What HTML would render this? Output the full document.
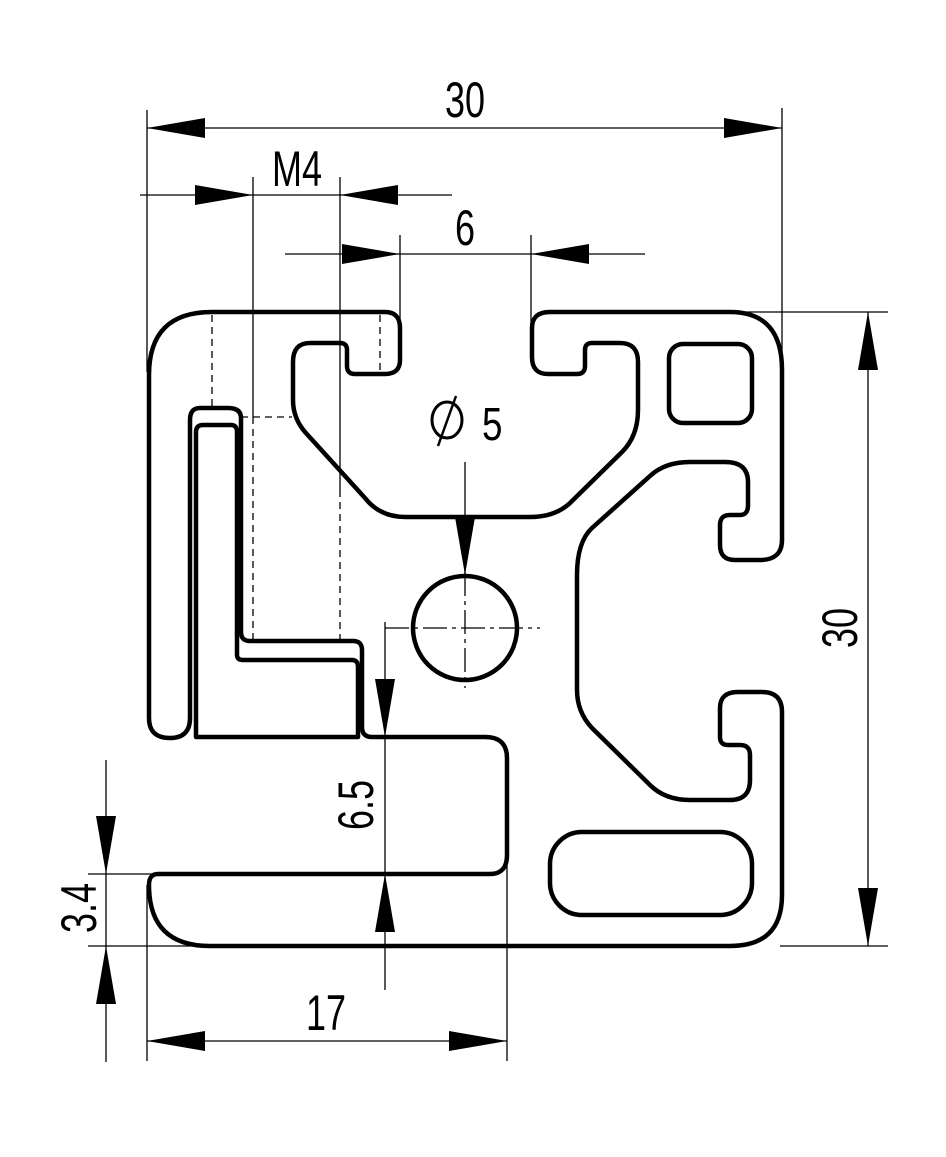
<!DOCTYPE html>
<html><head><meta charset="utf-8"><style>
html,body{margin:0;padding:0;background:#fff}
svg{display:block}
text{font-family:"Liberation Sans",sans-serif;fill:#000}
</style></head><body>
<svg width="946" height="1157" viewBox="0 0 946 1157" xmlns="http://www.w3.org/2000/svg">
<g fill="none" stroke="#000" stroke-width="4.5" stroke-linejoin="round">
<!-- main outer contour -->
<path d="M149,375 Q149,312 212,312 L385,312 Q400,312 400,328 L400,360 Q400,374 385,374 L355,374 Q347,374 347,366 L347,350 Q347,343 340,343 L310,343 Q293,343 293,362 L293,400 Q293,418 305,432 L365,498 Q380,517 405,517 L530,517 Q555,517 570,503 L622,452 Q638,436 638,410 L638,362 Q638,343 620,343 L592,343 Q585,343 585,350 L585,366 Q585,374 577,374 L548,374 Q532,374 532,357 L532,328 Q532,312 550,312 L730,312 Q782,312 782,370 L782,540 Q782,560 760,560 L735,560 Q720,560 720,545 L720,525 Q720,515 730,515 L740,515 Q748,515 748,505 L748,482 Q748,462 725,462 L690,462 Q665,462 650,476 L592,528 Q577,542 577,575 L577,690 Q577,712 592,728 L650,785 Q665,800 690,800 L730,800 Q750,800 750,780 L750,755 Q750,745 740,745 L728,745 Q720,745 720,737 L720,708 Q720,692 738,692 L762,692 Q782,692 782,712 L782,895 Q782,946 730,946 L210,946 Q149,946 149,885 Q149,874 158,874 L490,874 Q507,874 507,855 L507,758 Q507,737 485,737 L372,737 Q362,737 362,727 L362,650 Q362,641 353,641 L250,641 Q241,641 241,632 L241,418 Q241,408 228,408 L200,408 Q190,408 190,420 L190,718 Q190,738 170,738 Q149,738 149,718 Z"/>
<!-- insert L -->
<path d="M196,432 Q196,425 203,425 L231,425 Q237,425 237,432 L237,655 Q237,660 243,660 L352,660 Q358,660 358,667 L358,737 L196,737 Z"/>
<!-- top right hollow -->
<rect x="669" y="344" width="83" height="79" rx="14"/>
<!-- bottom slot -->
<rect x="550" y="832" width="202" height="83" rx="32"/>
<!-- circle -->
<circle cx="465" cy="628" r="52"/>
</g>
<g fill="none" stroke="#000" stroke-width="1.3">
<!-- dashed hidden lines -->
<g stroke-dasharray="7,5">
<line x1="212" y1="315" x2="212" y2="406"/>
<line x1="380" y1="315" x2="380" y2="372"/>
<line x1="241" y1="417" x2="292" y2="417"/>
<line x1="253" y1="417" x2="253" y2="639"/>
<line x1="340" y1="490" x2="340" y2="639"/>
</g>
<g stroke-dasharray="24,5,4,5">
<line x1="385" y1="628" x2="540" y2="628"/>
<line x1="465" y1="572" x2="465" y2="688"/>
</g>
<!-- extension lines -->
<line x1="147" y1="110" x2="147" y2="372"/>
<line x1="782" y1="108" x2="782" y2="362"/>
<line x1="253" y1="177" x2="253" y2="417"/>
<line x1="340" y1="177" x2="340" y2="490"/>
<line x1="400" y1="235" x2="400" y2="330"/>
<line x1="531" y1="235" x2="531" y2="356"/>
<line x1="735" y1="312" x2="888" y2="312"/>
<line x1="780" y1="946" x2="888" y2="946"/>
<line x1="88" y1="874" x2="155" y2="874"/>
<line x1="88" y1="946" x2="210" y2="946"/>
<line x1="147" y1="885" x2="147" y2="1061"/>
<line x1="507" y1="860" x2="507" y2="1061"/>
<!-- dimension lines -->
<line x1="147" y1="128" x2="782" y2="128"/>
<line x1="140" y1="195" x2="452" y2="195"/>
<line x1="285" y1="254" x2="645" y2="254"/>
<line x1="868" y1="312" x2="868" y2="946"/>
<line x1="385" y1="622" x2="385" y2="990"/>
<line x1="106" y1="760" x2="106" y2="1062"/>
<line x1="147" y1="1041" x2="507" y2="1041"/>
<line x1="465" y1="462" x2="465" y2="575"/>
</g>
<g fill="#000">
<!-- arrows -->
<polygon points="147,128 205,118 205,138"/>
<polygon points="782,128 724,118 724,138"/>
<polygon points="253,195 195,185 195,205"/>
<polygon points="340,195 398,185 398,205"/>
<polygon points="400,254 342,244 342,264"/>
<polygon points="531,254 589,244 589,264"/>
<polygon points="868,312 858,370 878,370"/>
<polygon points="868,946 858,888 878,888"/>
<polygon points="385,737 375,679 395,679"/>
<polygon points="385,874 375,932 395,932"/>
<polygon points="106,874 96,816 116,816"/>
<polygon points="106,946 96,1004 116,1004"/>
<polygon points="147,1041 205,1031 205,1051"/>
<polygon points="507,1041 449,1031 449,1051"/>
<polygon points="465,575 455,517 475,517"/>
</g>
<g font-size="50">
<text x="465" y="117" text-anchor="middle" transform="translate(465 0) scale(0.72 1) translate(-465 0)">30</text>
<text x="297" y="186" text-anchor="middle" transform="translate(297 0) scale(0.72 1) translate(-297 0)">M4</text>
<text x="465" y="245" text-anchor="middle" transform="translate(465 0) scale(0.72 1) translate(-465 0)">6</text>
<text x="326" y="1030" text-anchor="middle" transform="translate(326 0) scale(0.72 1) translate(-326 0)">17</text>
<text transform="translate(857 628) rotate(-90) scale(0.72 1)" text-anchor="middle">30</text>
<text transform="translate(373 805) rotate(-90) scale(0.72 1)" text-anchor="middle">6.5</text>
<text transform="translate(96 908) rotate(-90) scale(0.72 1)" text-anchor="middle">3.4</text>
<text x="482" y="440" font-size="46" transform="translate(482 0) scale(0.8 1) translate(-482 0)">5</text>
</g>
<g fill="none" stroke="#000" stroke-width="3">
<ellipse cx="447" cy="420" rx="15" ry="18"/>
<line x1="438" y1="446" x2="456" y2="396" stroke-width="2.5"/>
</g>
</svg>
</body></html>
